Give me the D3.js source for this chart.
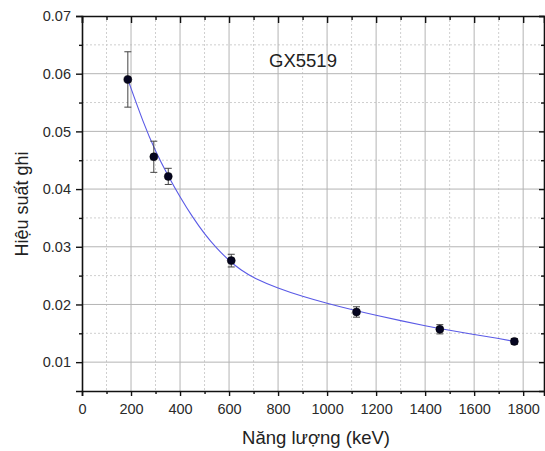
<!DOCTYPE html>
<html>
<head>
<meta charset="utf-8">
<script src="https://cdn.jsdelivr.net/npm/d3@7"></script>
<style>
  html, body { margin: 0; padding: 0; background: #fff; }
  svg { display: block; font-family: "Liberation Sans", Arial, sans-serif; }
</style>
</head>
<body>
<div id="chart"></div>
<script>
// ---- data ----
const energies = [187, 293, 352, 609, 1120, 1460, 1764];
const efficiencies = [0.0590, 0.0456, 0.0422, 0.0276, 0.0187, 0.0157, 0.0136];
const errors = [0.0048, 0.0027, 0.0014, 0.0011, 0.0009, 0.0008, 0.0005];
const fitEnergies = [187, 250, 300, 350, 400, 450, 500, 550, 600, 650, 700, 800, 900, 1000, 1100, 1200, 1300, 1400, 1500, 1600, 1700, 1764];
const fitEfficiencies = [0.0590, 0.0515, 0.0465, 0.0424, 0.0386, 0.0352, 0.0322, 0.0297, 0.0276, 0.0259, 0.0246, 0.0228, 0.0214, 0.0202, 0.0191, 0.0181, 0.0172, 0.0163, 0.0155, 0.0148, 0.0141, 0.0136];
const xTicks = [0, 200, 400, 600, 800, 1000, 1200, 1400, 1600, 1800];
const xMinorTicks = [100, 300, 500, 700, 900, 1100, 1300, 1500, 1700];
const yTicks = [0.01, 0.02, 0.03, 0.04, 0.05, 0.06, 0.07];
const yMinorTicks = [0.015, 0.025, 0.035, 0.045, 0.055, 0.065];
const titleText = "GX5519";
const xLabel = "Năng lượng (keV)";
const yLabel = "Hiệu suất ghi";

// ---- layout ----
const W = 545, H = 451;
const L = 82, T = 16, R = 544, B = 391;

const svg = d3.select("#chart").append("svg").attr("width", W).attr("height", H);

const x = d3.scaleLinear().domain([0, 1885]).range([L, R]);
const y = d3.scaleLinear().domain([0.005, 0.07]).range([B, T]);

// grid
const grid = svg.append("g");
grid.selectAll(".xmin").data(xMinorTicks).join("line")
  .attr("x1", d => x(d)).attr("x2", d => x(d)).attr("y1", T).attr("y2", B)
  .attr("stroke", "#cfcfcf").attr("stroke-width", 1).attr("stroke-dasharray", "2,2");
grid.selectAll(".ymin").data(yMinorTicks).join("line")
  .attr("y1", d => y(d)).attr("y2", d => y(d)).attr("x1", L).attr("x2", R)
  .attr("stroke", "#cfcfcf").attr("stroke-width", 1).attr("stroke-dasharray", "2,2");
grid.selectAll(".xmaj").data(xTicks.filter(d => d > 0)).join("line")
  .attr("x1", d => x(d)).attr("x2", d => x(d)).attr("y1", T).attr("y2", B)
  .attr("stroke", "#b4b4b4").attr("stroke-width", 1);
grid.selectAll(".ymaj").data(yTicks.filter(d => d < 0.07)).join("line")
  .attr("y1", d => y(d)).attr("y2", d => y(d)).attr("x1", L).attr("x2", R)
  .attr("stroke", "#b4b4b4").attr("stroke-width", 1);

// axes
function styleAxis(g) {
  g.select(".domain").attr("stroke", "#111").attr("stroke-width", 1.6);
  g.selectAll(".tick line").attr("stroke", "#111").attr("stroke-width", 1.4);
  g.selectAll(".tick text").attr("fill", "#2a2a2a").attr("font-size", 14.5)
    .attr("font-family", "'Liberation Sans', Arial, sans-serif");
}
// bottom
const xAxis = svg.append("g").attr("transform", `translate(0,${B})`)
  .call(d3.axisBottom(x).tickValues(xTicks).tickSize(5).tickPadding(8).tickFormat(d3.format("d")));
styleAxis(xAxis);
svg.append("g").attr("transform", `translate(0,${B})`)
  .call(d3.axisBottom(x).tickValues(xMinorTicks).tickSize(3).tickFormat(""))
  .call(g => { g.select(".domain").remove(); g.selectAll("line").attr("stroke", "#111").attr("stroke-width", 1.4); });
// top
const xTop = svg.append("g").attr("transform", `translate(0,${T})`)
  .call(d3.axisTop(x).tickValues(xTicks).tickSize(-7).tickFormat(""));
styleAxis(xTop);
svg.append("g").attr("transform", `translate(0,${T})`)
  .call(d3.axisTop(x).tickValues(xMinorTicks).tickSize(-4).tickFormat(""))
  .call(g => { g.select(".domain").remove(); g.selectAll("line").attr("stroke", "#111").attr("stroke-width", 1.4); });
// left
const yAxis = svg.append("g").attr("transform", `translate(${L},0)`)
  .call(d3.axisLeft(y).tickValues(yTicks).tickSize(6).tickPadding(5).tickFormat(d3.format(".2f")));
styleAxis(yAxis);
svg.append("g").attr("transform", `translate(${L},0)`)
  .call(d3.axisLeft(y).tickValues(yMinorTicks).tickSize(3).tickFormat(""))
  .call(g => { g.select(".domain").remove(); g.selectAll("line").attr("stroke", "#111").attr("stroke-width", 1.4); });
// right
const yRight = svg.append("g").attr("transform", `translate(${R},0)`)
  .call(d3.axisRight(y).tickValues(yTicks).tickSize(-5).tickFormat(""));
styleAxis(yRight);
svg.append("g").attr("transform", `translate(${R},0)`)
  .call(d3.axisRight(y).tickValues(yMinorTicks).tickSize(-3).tickFormat(""))
  .call(g => { g.select(".domain").remove(); g.selectAll("line").attr("stroke", "#111").attr("stroke-width", 1.4); });

// fit curve
const fit = fitEnergies.map((e, i) => [e, fitEfficiencies[i]]);
svg.append("path").datum(fit)
  .attr("d", d3.line().x(d => x(d[0])).y(d => y(d[1])).curve(d3.curveBasis))
  .attr("fill", "none").attr("stroke", "#5a5ae6").attr("stroke-width", 1.1);

// error bars
const pts = energies.map((e, i) => ({ e, v: efficiencies[i], err: errors[i] }));
const eb = svg.append("g").attr("stroke", "#444").attr("stroke-width", 1);
eb.selectAll(".v").data(pts).join("line")
  .attr("x1", d => x(d.e)).attr("x2", d => x(d.e))
  .attr("y1", d => y(d.v + d.err)).attr("y2", d => y(d.v - d.err));
eb.selectAll(".t").data(pts).join("line")
  .attr("x1", d => x(d.e) - 3.5).attr("x2", d => x(d.e) + 3.5)
  .attr("y1", d => y(d.v + d.err)).attr("y2", d => y(d.v + d.err));
eb.selectAll(".b").data(pts).join("line")
  .attr("x1", d => x(d.e) - 3.5).attr("x2", d => x(d.e) + 3.5)
  .attr("y1", d => y(d.v - d.err)).attr("y2", d => y(d.v - d.err));

// markers
svg.append("g").selectAll("circle").data(pts).join("circle")
  .attr("cx", d => x(d.e)).attr("cy", d => y(d.v)).attr("r", 4)
  .attr("fill", "#050520").attr("stroke", "#000").attr("stroke-width", 0.5);

// texts
svg.append("text").attr("x", 303).attr("y", 67).attr("text-anchor", "middle")
  .attr("font-size", 18.5).attr("fill", "#222").text(titleText);
svg.append("text").attr("x", 316).attr("y", 444).attr("text-anchor", "middle")
  .attr("font-size", 18.5).attr("fill", "#222").text(xLabel);
svg.append("text").attr("transform", "translate(28,204) rotate(-90)").attr("text-anchor", "middle")
  .attr("font-size", 18).attr("fill", "#222").text(yLabel);
</script>
</body>
</html>
